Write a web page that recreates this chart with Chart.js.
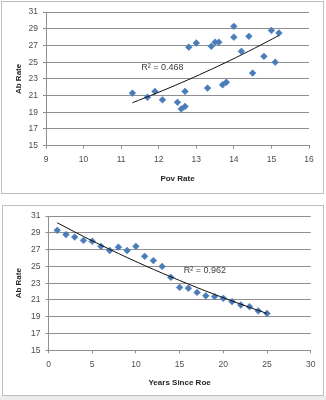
<!DOCTYPE html>
<html>
<head>
<meta charset="utf-8">
<script src="https://cdn.jsdelivr.net/npm/chart.js@4/dist/chart.umd.min.js"></script>
<style>
  html, body { margin: 0; padding: 0; background: #fff; width: 326px; height: 400px; overflow: hidden; }
  .box { position: absolute; border: 1px solid #bfbfbf; background: #fff; }
  #boxTop { left: 1px; top: 1px; width: 321px; height: 191px; }
  #boxBottom { left: 2px; top: 205px; width: 320px; height: 189px; }
  #shade { position: absolute; left: 0; top: 396px; width: 326px; height: 4px; background: #ececec; }
  canvas { display: block; }
</style>
</head>
<body>
<div class="box" id="boxTop"><canvas id="chartTop" width="321" height="191"></canvas></div>
<div class="box" id="boxBottom"><canvas id="chartBottom" width="320" height="189"></canvas></div>
<div id="shade"></div>
<script>
// === DATA ===
const povRate = [11.3, 11.7, 11.9, 12.1, 12.5, 12.6, 12.7, 12.7, 12.8, 13.0, 13.3, 13.4, 13.5,
  13.6, 13.7, 13.8, 14.0, 14.0, 14.2, 14.4, 14.5, 14.8, 15.0, 15.1, 15.2];
const abRateByPov = [21.3, 20.8, 21.5, 20.5, 20.2, 19.4, 19.7, 21.5, 26.8, 27.3, 21.9, 26.9, 27.4,
  27.4, 22.3, 22.6, 29.3, 28.0, 26.3, 28.1, 23.7, 25.7, 28.8, 25.0, 28.5];

const yearsSinceRoe = [1, 2, 3, 4, 5, 6, 7, 8, 9, 10, 11, 12, 13, 14, 15, 16, 17, 18, 19, 20, 21, 22, 23, 24, 25];
const abRateByYear = [29.3, 28.8, 28.5, 28.1, 28.0, 27.4, 26.9, 27.3, 26.9, 27.4, 26.2, 25.7, 25.0,
  23.7, 22.5, 22.4, 21.9, 21.5, 21.4, 21.2, 20.8, 20.4, 20.2, 19.7, 19.4];

const povTicks = [9, 10, 11, 12, 13, 14, 15, 16];
const yearTicks = [0, 5, 10, 15, 20, 25, 30];
const abTicks = [15, 17, 19, 21, 23, 25, 27, 29, 31];

const r2Top = 'R\u00B2 = 0.468';
const r2Bottom = 'R\u00B2 = 0.962';

// === HELPERS ===
const FONT = "'Liberation Sans Narrow', 'Liberation Sans', Arial, sans-serif";
const GRID = '#8f8f8f';
const BLUE = '#4a7cba';

// excel style exponential trendline, fitted on ln(y)
function expTrend(xs, ys) {
  const n = xs.length;
  let sx = 0, sy = 0, sxx = 0, sxy = 0;
  xs.forEach((x, i) => {
    const ly = Math.log(ys[i]);
    sx += x; sy += ly; sxx += x * x; sxy += x * ly;
  });
  const b = (n * sxy - sx * sy) / (n * sxx - sx * sx);
  const a = Math.exp((sy - b * sx) / n);
  const lo = Math.min(...xs), hi = Math.max(...xs);
  const pts = [];
  for (let i = 0; i <= 24; i++) {
    const x = lo + (hi - lo) * i / 24;
    pts.push({ x: x, y: a * Math.exp(b * x) });
  }
  return pts;
}

const r2Label = {
  id: 'r2Label',
  afterDatasetsDraw(chart, args, opts) {
    const { ctx, scales: { x, y } } = chart;
    ctx.save();
    ctx.font = '9px ' + FONT;
    ctx.fillStyle = '#404040';
    ctx.textAlign = 'center';
    ctx.textBaseline = 'middle';
    ctx.fillText(opts.text, x.getPixelForValue(opts.at[0]), y.getPixelForValue(opts.at[1]));
    ctx.restore();
  }
};

function makeChart(canvas, xs, ys, cfg) {
  return new Chart(canvas, {
    type: 'scatter',
    data: {
      datasets: [
        {
          type: 'line',
          data: expTrend(xs, ys),
          borderColor: '#111',
          borderWidth: 1,
          pointRadius: 0,
          fill: false,
          tension: 0
        },
        {
          data: xs.map((x, i) => ({ x: x, y: ys[i] })),
          pointStyle: 'rectRot',
          pointRadius: 3.4,
          backgroundColor: BLUE,
          borderColor: BLUE,
          borderWidth: 0.5
        }
      ]
    },
    options: {
      responsive: false,
      animation: false,
      events: [],
      layout: { padding: cfg.padding },
      plugins: {
        legend: { display: false },
        tooltip: { enabled: false },
        r2Label: { text: cfg.r2, at: cfg.r2At }
      },
      scales: {
        x: {
          type: 'linear',
          min: cfg.xTicks[0],
          max: cfg.xTicks[cfg.xTicks.length - 1],
          afterBuildTicks: s => { s.ticks = cfg.xTicks.map(v => ({ value: v })); },
          afterFit: s => { s.height = cfg.xHeight; },
          ticks: { color: '#4d4d4d', font: { family: FONT, size: 8.5 }, padding: 6, maxRotation: 0 },
          grid: { drawOnChartArea: false, drawTicks: true, tickLength: 3, color: GRID },
          border: { color: GRID },
          title: {
            display: true, text: cfg.xTitle, color: '#262626',
            font: { family: FONT, size: 8, weight: 'bold' },
            padding: { top: 0, bottom: cfg.xTitlePad }
          }
        },
        y: {
          min: abTicks[0],
          max: abTicks[abTicks.length - 1],
          afterBuildTicks: s => { s.ticks = abTicks.map(v => ({ value: v })); },
          afterFit: s => { s.width = cfg.yWidth; },
          ticks: { color: '#4d4d4d', font: { family: FONT, size: 8.5 }, padding: 5 },
          grid: { color: GRID, tickLength: 3 },
          border: { color: GRID },
          title: {
            display: true, text: 'Ab Rate', color: '#262626',
            font: { family: FONT, size: 8, weight: 'bold' },
            padding: { top: cfg.yTitlePad, bottom: 0 }
          }
        }
      }
    },
    plugins: [r2Label]
  });
}

makeChart(document.getElementById('chartTop'), povRate, abRateByPov, {
  xTicks: povTicks, xTitle: 'Pov Rate', r2: r2Top, r2At: [12.1, 24.35],
  padding: { left: 0, right: 14, top: 8.7, bottom: 0 },
  yWidth: 44, xHeight: 47.3, xTitlePad: 9.8, yTitlePad: 12.2
});

makeChart(document.getElementById('chartBottom'), yearsSinceRoe, abRateByYear, {
  xTicks: yearTicks, xTitle: 'Years Since Roe', r2: r2Bottom, r2At: [17.9, 24.5],
  padding: { left: 0, right: 12.3, top: 9, bottom: 0 },
  yWidth: 45.5, xHeight: 44.7, xTitlePad: 7.4, yTitlePad: 11.2
});
</script>
</body>
</html>
